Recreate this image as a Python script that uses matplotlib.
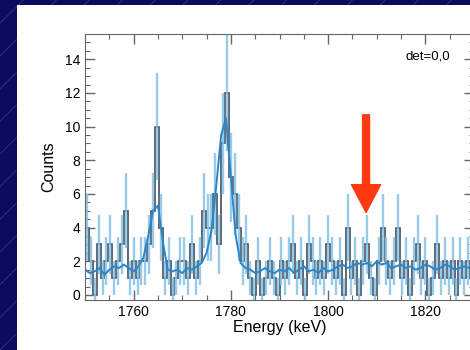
import numpy as np
import matplotlib
matplotlib.use("Agg")
import matplotlib.pyplot as plt
from matplotlib.lines import Line2D
from matplotlib.patches import Rectangle

plt.rcParams["font.family"] = ["Liberation Sans", "DejaVu Sans"]

# spectrum: 0.8 keV bins from 1750 to 1830 keV
bin_lo = 1750.0
bin_w = 0.8
counts = [4, 2, 0, 3, 1, 2, 3, 1, 2, 3, 5, 1, 2,
          1, 2, 2, 3, 5,
          10,
          4, 1, 2, 0, 1, 2,
          2, 1, 3, 1, 2,
          5, 4, 4, 6, 3,
          9, 12, 7, 6, 4, 2, 3,
          1, 0, 2, 0, 1, 2, 1, 0, 2,
          1, 2, 3, 1, 2, 0, 3, 2, 1, 2, 1, 3,
          2, 1, 2, 0,
          4,
          1, 2, 0, 2,
          3,
          1, 0, 2,
          4,
          2, 1, 2,
          4,
          1, 2, 0, 2,
          3,
          1, 2, 0, 1,
          3,
          1, 2, 1, 2, 0, 2, 1, 2, 1]

# background model, read every 1 keV
model_e = list(range(1750, 1831))
model_y = [1.5, 1.3, 1.4, 1.6, 1.2, 1.5, 1.7, 1.6, 1.8, 1.6,
           1.4, 1.7, 2.2, 3.5, 5.0, 5.3, 3.2, 1.5, 1.4, 1.5,
           1.3, 1.6, 1.5, 1.7, 1.9, 2.5, 3.8, 6.5, 9.5, 10.5,
           7.0, 3.5, 1.9, 1.6, 1.5, 1.3, 1.4, 1.6, 1.4, 1.3,
           1.5, 1.4, 1.6, 1.3, 1.5, 1.7, 1.4, 1.5, 1.3, 1.6,
           1.4, 1.5, 1.7, 1.8, 1.6, 1.7, 1.9, 1.8, 1.9, 1.7,
           2.0, 1.8, 1.9, 1.6, 1.7, 1.8, 1.6, 1.7, 1.5, 1.6,
           1.8, 1.7, 1.5, 1.6, 1.8, 1.7, 1.5, 1.6, 1.7, 1.6, 1.5]

xticks = [1760, 1780, 1800, 1820]
yticks = [0, 2, 4, 6, 8, 10, 12, 14]
arrow_e = 1807.8
arrow_from = 10.7
arrow_to = 4.9

c = np.array(counts, dtype=float)
edges = bin_lo + bin_w * np.arange(len(c) + 1)
centers = edges[:-1] + bin_w / 2
err = np.sqrt(np.maximum(c, 1))

fig = plt.figure(figsize=(4.7, 3.5), dpi=100)
fig.patch.set_facecolor("#0b0a5e")

# faint diagonal stripes of the slide background
for k in range(-20, 40):
    x0 = k * 0.07
    fig.add_artist(Line2D([x0, x0 + 0.75], [0, 1], transform=fig.transFigure,
                          color="#5a66b0", lw=0.6, alpha=0.5, zorder=0))
fig.add_artist(Rectangle((17 / 470, 0), 1, 345 / 350, transform=fig.transFigure,
                         facecolor="white", edgecolor="none", zorder=1))

ax = fig.add_axes([85 / 470, 50 / 350, 389 / 470, 266 / 350])
ax.set_zorder(2)
ax.patch.set_alpha(0)

ax.vlines(centers, c - err, c + err, color="#86c1e6", lw=1.7, alpha=0.85)
ax.stairs(c, edges, color="#404f5e", lw=1.2)
ax.plot(model_e, model_y, color="#2a86c9", lw=1.4)

ax.annotate("", xy=(arrow_e, arrow_to), xytext=(arrow_e, arrow_from),
            arrowprops=dict(arrowstyle="simple,head_length=1.0,head_width=1.05,tail_width=0.25",
                            mutation_scale=20, color="#ff3a10", shrinkA=0, shrinkB=0))

ax.set_xlim(1750, 1830)
ax.set_ylim(-0.3, 15.5)
ax.set_xticks(xticks)
ax.set_yticks(yticks)
ax.set_xticks(np.arange(1750, 1831, 5), minor=True)
ax.set_yticks(np.arange(0, 15.5, 0.5), minor=True)
ax.tick_params(which="both", direction="in", top=True, right=True, color="#666666",
               labelsize=10)
ax.tick_params(which="major", length=7, width=1)
ax.tick_params(which="minor", length=3.5, width=0.8)
for s in ax.spines.values():
    s.set_color("#666666")

ax.set_xlabel("Energy (keV)", fontsize=11.5, labelpad=1)
ax.set_ylabel("Counts", fontsize=11.5, labelpad=6)
ax.text(0.88, 0.915, "det=0,0", transform=ax.transAxes, ha="center", va="center",
        fontsize=9.5)

fig.savefig("out.png", dpi=100, facecolor=fig.get_facecolor())
